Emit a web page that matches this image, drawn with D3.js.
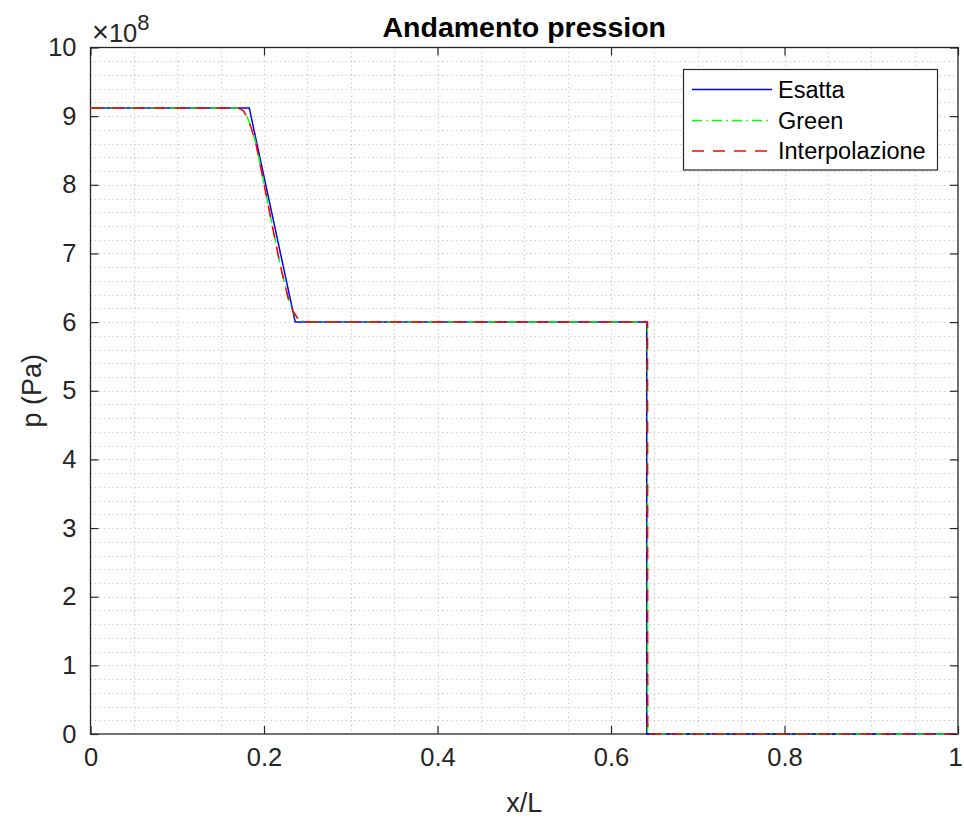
<!DOCTYPE html>
<html>
<head>
<meta charset="utf-8">
<script src="https://cdn.jsdelivr.net/npm/d3@7"></script>
<style>
  html, body { margin: 0; padding: 0; background: #fff; }
  svg { display: block; font-family: "Liberation Sans", Arial, Helvetica, sans-serif; }
</style>
</head>
<body>
<svg id="chart" width="964" height="821"></svg>
<script>
// ---- Data (pressure in units of 1e8 Pa) ----
const xTicks = [0, 0.2, 0.4, 0.6, 0.8, 1];
const xTickLabels = ["0", "0.2", "0.4", "0.6", "0.8", "1"];
const yTicks = [0, 1, 2, 3, 4, 5, 6, 7, 8, 9, 10];
const yTickLabels = ["0", "1", "2", "3", "4", "5", "6", "7", "8", "9", "10"];
const seriesNames = ["Esatta", "Green", "Interpolazione"];

const esattaX = [0, 0.183, 0.236, 0.6412, 0.6412, 1];
const esattaP = [9.12, 9.12, 6.0, 6.0, 0, 0];

const greenX = [0, 0.170, 0.176, 0.1806, 0.1852, 0.191, 0.2002, 0.2094, 0.2187, 0.2279, 0.2335, 0.2385, 0.2440, 0.2500, 0.640, 0.6419, 0.6421, 1];
const greenP = [9.12, 9.12, 9.08, 8.99, 8.84, 8.59, 8.01, 7.42, 6.83, 6.34, 6.15, 6.06, 6.02, 6.0, 6.0, 6.0, 0, 0];

const interpX = [0, 0.1702, 0.176, 0.1806, 0.1852, 0.191, 0.2002, 0.2094, 0.2187, 0.2279, 0.2335, 0.2385, 0.2440, 0.2500, 0.640, 0.6421, 0.6423, 1];
const interpP = [9.12, 9.12, 9.08, 8.99, 8.83, 8.58, 8.0, 7.41, 6.83, 6.35, 6.16, 6.06, 6.02, 6.0, 6.0, 6.0, 0, 0];

// ---- Layout ----
const svg = d3.select("#chart");
const L = 90.5, R = 958, T = 47.5, B = 734;
const x = d3.scaleLinear().domain([0, 1]).range([L, R]);
const y = d3.scaleLinear().domain([0, 10]).range([B, T]);
const axisColor = "#262626";

// clip (slightly larger so lines on the axes remain visible)
svg.append("defs").append("clipPath").attr("id", "clip")
  .append("rect").attr("x", L - 2).attr("y", T - 2).attr("width", R - L + 4).attr("height", B - T + 4);

// grid (minor + major, dotted)
const grid = svg.append("g").attr("stroke", "#c4c4c4").attr("stroke-width", 1)
  .attr("stroke-dasharray", "1.2,3.2");
const xGrid = d3.range(1, 20).map(i => i * 0.05);
const yGrid = d3.range(1, 50).map(i => i * 0.2);
grid.selectAll("line.vx").data(xGrid).join("line")
  .attr("x1", d => Math.round(x(d)) + 0.5).attr("x2", d => Math.round(x(d)) + 0.5)
  .attr("y1", T).attr("y2", B);
grid.selectAll("line.hy").data(yGrid).join("line")
  .attr("y1", d => Math.round(y(d)) + 0.5).attr("y2", d => Math.round(y(d)) + 0.5)
  .attr("x1", L).attr("x2", R);

// box (drawn under the data lines)
svg.append("rect").attr("x", L).attr("y", T).attr("width", R - L).attr("height", B - T)
  .attr("fill", "none").attr("stroke", axisColor).attr("stroke-width", 1.3);

// lines
const lineStraight = d3.line().x(d => x(d[0])).y(d => y(d[1]));
const plot = svg.append("g").attr("clip-path", "url(#clip)").attr("fill", "none");
plot.append("path").datum(d3.zip(esattaX, esattaP)).attr("d", lineStraight)
  .attr("stroke", "#0000ff").attr("stroke-width", 1.5);
plot.append("path").datum(d3.zip(greenX, greenP)).attr("d", lineStraight)
  .attr("stroke", "#00ff00").attr("stroke-width", 1.5).attr("stroke-dasharray", "10,4.5,1.5,4");
plot.append("path").datum(d3.zip(interpX, interpP)).attr("d", lineStraight)
  .attr("stroke", "#ff0000").attr("stroke-width", 1.5).attr("stroke-dasharray", "12,9");

// axes
const fs = 25.5;
const xAxis = d3.axisBottom(x).tickValues(xTicks).tickFormat((d, i) => xTickLabels[i])
  .tickSizeInner(-8).tickSizeOuter(0).tickPadding(14);
const gx = svg.append("g").attr("transform", `translate(0,${B})`).call(xAxis);
const yAxis = d3.axisLeft(y).tickValues(yTicks).tickFormat((d, i) => yTickLabels[i])
  .tickSizeInner(-8).tickSizeOuter(0).tickPadding(14);
const gy = svg.append("g").attr("transform", `translate(${L},0)`).call(yAxis);
const xTop = d3.axisTop(x).tickValues(xTicks).tickFormat("").tickSizeInner(-8).tickSizeOuter(0);
const gxt = svg.append("g").attr("transform", `translate(0,${T})`).call(xTop);
const yRight = d3.axisRight(y).tickValues(yTicks).tickFormat("").tickSizeInner(-8).tickSizeOuter(0);
const gyr = svg.append("g").attr("transform", `translate(${R},0)`).call(yRight);
[gx, gy, gxt, gyr].forEach(g => {
  g.select(".domain").remove();
  g.selectAll(".tick line").attr("stroke", axisColor).attr("stroke-width", 1.2);
  g.selectAll(".tick text").attr("fill", axisColor).style("font-size", fs + "px")
    .style("font-family", '"Liberation Sans", Arial, sans-serif');
});
gx.selectAll(".tick text").attr("dy", "0.71em");
gx.selectAll(".tick text").filter(d => d === 1).attr("dx", -3);

// exponent label
const ex = svg.append("text").attr("x", 92).attr("y", 42).attr("fill", axisColor)
  .style("font-size", fs + "px");
ex.append("tspan").style("font-size", "29px").text("×");
ex.append("tspan").text("10");
ex.append("tspan").attr("dy", -12).style("font-size", "22px").text("8");

// title
svg.append("text").attr("x", (L + R) / 2).attr("y", 37).attr("text-anchor", "middle")
  .style("font-size", "28.5px").style("font-weight", "bold").attr("fill", "#000")
  .text("Andamento pression");

// axis labels
svg.append("text").attr("x", (L + R) / 2).attr("y", 812).attr("text-anchor", "middle")
  .style("font-size", "27px").attr("fill", axisColor).text("x/L");
svg.append("text").attr("transform", `translate(41,${(T + B) / 2}) rotate(-90)`)
  .attr("text-anchor", "middle").style("font-size", "27px").attr("fill", axisColor).text("p (Pa)");

// legend
const lg = svg.append("g");
lg.append("rect").attr("x", 683.5).attr("y", 69.5).attr("width", 254).attr("height", 100.5)
  .attr("fill", "#fff").attr("stroke", axisColor).attr("stroke-width", 1.2);
const legendStyles = [
  { c: "#0000ff", dash: null },
  { c: "#00ff00", dash: "10,4.5,1.5,4" },
  { c: "#ff0000", dash: "12,9" }
];
const rowY = [89.5, 120.5, 151];
seriesNames.forEach((name, i) => {
  const l = lg.append("line").attr("x1", 692).attr("x2", 772).attr("y1", rowY[i]).attr("y2", rowY[i])
    .attr("stroke", legendStyles[i].c).attr("stroke-width", 1.5);
  if (legendStyles[i].dash) l.attr("stroke-dasharray", legendStyles[i].dash);
  lg.append("text").attr("x", 778).attr("y", rowY[i]).attr("dy", "0.36em")
    .style("font-size", "23.5px").attr("fill", "#000").text(name);
});
</script>
</body>
</html>
